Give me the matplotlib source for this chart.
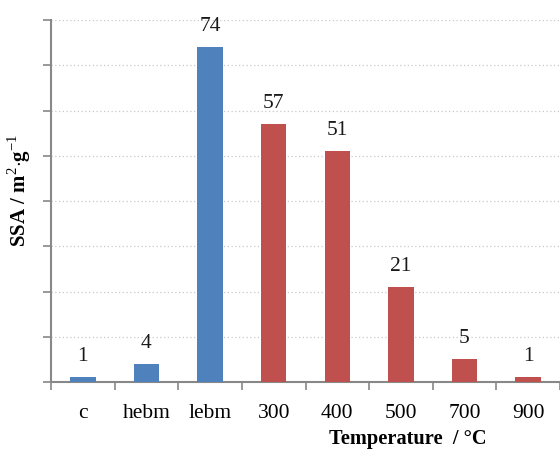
import numpy as np
import matplotlib.pyplot as plt

plt.rcParams['font.family'] = ['Liberation Serif', 'DejaVu Serif']
plt.rcParams['mathtext.fontset'] = 'custom'
plt.rcParams['mathtext.rm'] = 'Liberation Serif'
plt.rcParams['mathtext.bf'] = 'Liberation Serif:bold'

categorias = ['c', 'hebm', 'lebm', '300', '400', '500', '700', '900']
ssa = [1, 4, 74, 57, 51, 21, 5, 1]
colores = ['#4F81BD', '#4F81BD', '#4F81BD', '#C0504D', '#C0504D', '#C0504D', '#C0504D', '#C0504D']

fig = plt.figure(figsize=(5.6, 4.51), dpi=100)
ax = fig.add_axes([51/560, 69/451, 1 - 51/560, 362/451])

x = np.arange(len(categorias))
ax.bar(x, ssa, width=0.4, color=colores, zorder=3)

for xi, v in zip(x, ssa):
    ax.annotate(str(v), (xi, v), xytext=(0, 8), textcoords='offset points',
                ha='center', va='bottom', fontsize=15.5, color='#1a1a1a')

ax.set_xlim(-0.5, len(categorias) - 0.5)
ax.set_ylim(0, 80)
ax.set_yticks(np.arange(0, 81, 10))
ax.set_yticklabels([])
ax.yaxis.grid(True, linestyle=(0, (1, 2)), color='#c8c8c8', linewidth=0.9, zorder=0)

ax.set_xticks(x)
ax.set_xticklabels(categorias, fontsize=15.5)
ax.set_xticks(np.arange(-0.5, len(categorias), 1), minor=True)
ax.tick_params(axis='x', which='major', length=0, pad=16)
ax.tick_params(axis='x', which='minor', length=6, color='#888888', width=1.2)
ax.tick_params(axis='y', length=6, color='#888888', width=1.2)

for s in ['top', 'right']:
    ax.spines[s].set_visible(False)
for s in ['left', 'bottom']:
    ax.spines[s].set_color('#888888')
    ax.spines[s].set_linewidth(1.5)

fig.text(19/560, 1 - 190/451, r'SSA / m$^{\mathrm{2}}$$\cdot$g$^{\mathrm{-1}}$', rotation=90,
         ha='center', va='center', fontsize=15, fontweight='bold')
fig.text(408/560, 1 - 439/451, 'Temperature  / °C', ha='center', va='center',
         fontsize=14.7, fontweight='bold')

fig.savefig('out.png', dpi=100)
